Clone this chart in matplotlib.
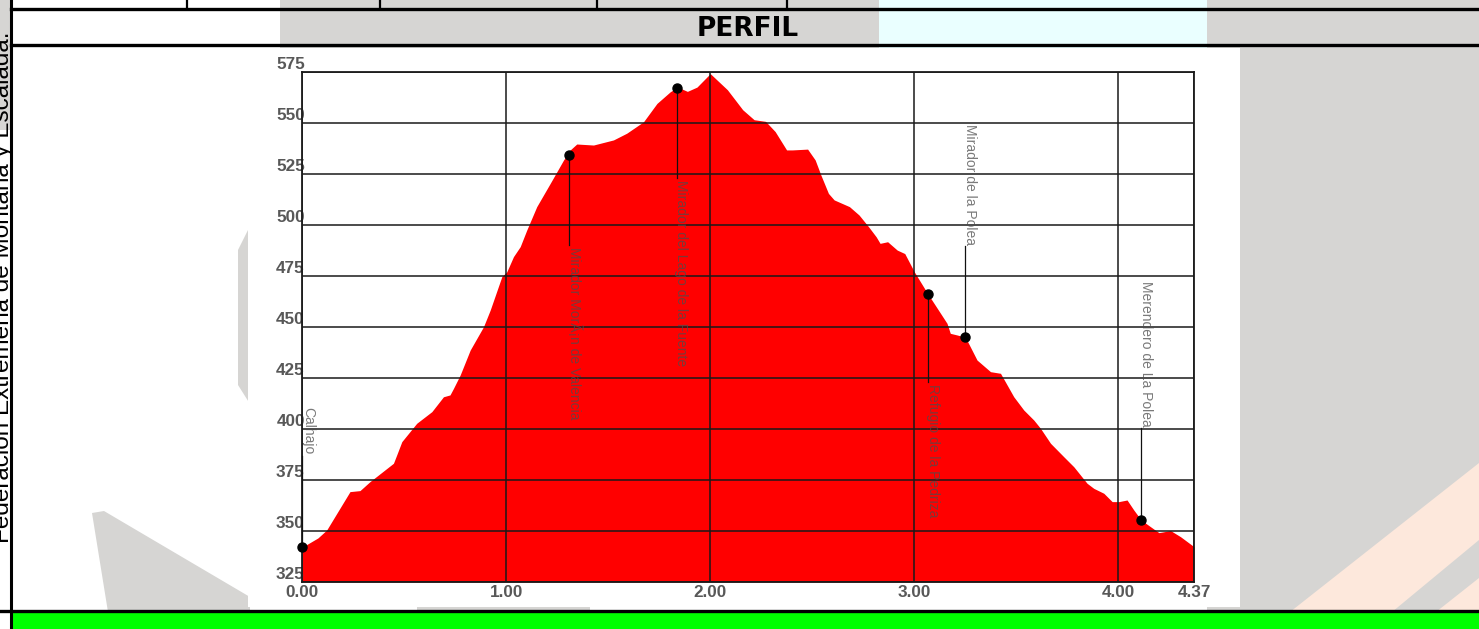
"""
plot.py
-------
Elevation profile ("PERFIL") of a hiking route, drawn inside a table-like
document frame, saved as out.png.
"""

import matplotlib

matplotlib.use("Agg")

import matplotlib.pyplot as plt
from matplotlib.patches import Polygon, Rectangle

# ── Data ──────────────────────────────────────────────────────────────────────

# distance along the route (km) and elevation (m)
DIST_KM = [
    0.000, 0.078, 0.121, 0.235, 0.284, 0.333, 0.448, 0.464, 0.489, 0.562,
    0.636, 0.693, 0.725, 0.742, 0.775, 0.824, 0.889, 0.922, 0.979, 1.003,
    1.036, 1.069, 1.101, 1.150, 1.216, 1.281, 1.314, 1.346, 1.428, 1.526,
    1.591, 1.673, 1.739, 1.804, 1.841, 1.888, 1.935, 2.000, 2.084, 2.159,
    2.215, 2.271, 2.318, 2.374, 2.402, 2.477, 2.514, 2.542, 2.579, 2.607,
    2.682, 2.729, 2.776, 2.813, 2.832, 2.869, 2.916, 2.953, 3.000, 3.065,
    3.160, 3.176, 3.209, 3.250, 3.307, 3.373, 3.422, 3.487, 3.536, 3.585,
    3.618, 3.667, 3.732, 3.781, 3.846, 3.879, 3.928, 3.969, 4.002, 4.042,
    4.075, 4.111, 4.157, 4.198, 4.255, 4.304, 4.370,
]
ELEV_M = [
    342.0, 346.6, 350.5, 369.3, 369.8, 374.2, 383.2, 387.3, 393.8, 402.8,
    408.5, 415.8, 416.7, 419.9, 426.5, 438.7, 450.1, 458.3, 474.7, 477.0,
    484.5, 489.4, 497.5, 509.0, 520.4, 531.8, 536.8, 539.7, 539.2, 541.7,
    545.0, 550.6, 559.6, 565.3, 567.6, 565.5, 567.6, 574.2, 566.3, 556.5,
    551.6, 550.8, 545.8, 536.8, 536.8, 537.2, 531.9, 524.5, 515.5, 512.3,
    509.0, 504.9, 499.1, 494.2, 491.0, 491.8, 487.7, 486.0, 477.0, 466.4,
    451.8, 446.9, 446.1, 445.0, 433.8, 428.1, 427.3, 415.8, 409.3, 404.4,
    400.3, 393.0, 386.4, 381.5, 373.4, 370.9, 368.5, 364.4, 364.4, 365.2,
    360.3, 355.4, 352.1, 349.2, 350.2, 347.2, 342.3,
]

# waypoints
WAYPOINT_NAMES = [
    "Calhajo",
    "Mirador MorÃ¡n de Valencia",
    "Mirador del Lago de la Fuente",
    "Refugio de la Pedriza",
    "Mirador de la Polea",
    "Merendero de La Polea",
]
WAYPOINT_KM = [0.0, 1.31, 1.835, 3.065, 3.25, 4.11]
WAYPOINT_ELEV = [342.0, 534.5, 567.0, 466.0, 445.0, 355.5]

X_TICKS = [0.0, 1.0, 2.0, 3.0, 4.0, 4.37]
Y_TICKS = [325, 350, 375, 400, 425, 450, 475, 500, 525, 550, 575]

# ── Layout (pixels, figure is 1479 x 629) ─────────────────────────────────────

W, H = 1479, 629
AX_LEFT, AX_RIGHT, AX_TOP, AX_BOTTOM = 302, 1194, 72, 582

# label placement per waypoint: (direction, elevation where leader line ends, text x in km)
LABEL_LAYOUT = [
    ("up", 387.0, 0.030),
    ("down", 490.0, 1.335),
    ("down", 523.0, 1.858),
    ("down", 423.0, 3.090),
    ("up", 489.5, 3.272),
    ("up", 400.5, 4.133),
]

GRAY_WM = "#d6d5d3"
CYAN_WM = "#eaffff"
PEACH_WM = "#fde8dc"

fig = plt.figure(figsize=(W / 100, H / 100), dpi=100)
fig.patch.set_facecolor("white")

# ── Background: page watermark + table frame ──────────────────────────────────

bg = fig.add_axes([0, 0, 1, 1])
bg.set_xlim(0, W)
bg.set_ylim(H, 0)
bg.axis("off")


def rect(x0, y0, x1, y1, color, z=0):
    bg.add_patch(Rectangle((x0, y0), x1 - x0, y1 - y0, facecolor=color,
                           edgecolor="none", zorder=z))


def poly(pts, color, z=0):
    bg.add_patch(Polygon(pts, closed=True, facecolor=color, edgecolor="none",
                         zorder=z))


# watermark pieces
rect(0, 0, 10, 130, GRAY_WM)
rect(280, 0, 879, 48, GRAY_WM)
rect(879, 0, 1207, 48, CYAN_WM)
rect(1207, 0, W, 612, GRAY_WM)
poly([(1290, 612), (W, 463), (W, 540), (1392, 612)], PEACH_WM)
poly([(1436, 612), (W, 578), (W, 612)], PEACH_WM)
poly([(92, 513), (104, 511), (250, 597), (250, 612), (108, 612)], GRAY_WM)
poly([(250, 226), (258, 228), (258, 404), (250, 404), (238, 385), (238, 250)],
     GRAY_WM)
rect(417, 600, 590, 612, GRAY_WM)

# white background of the chart picture
rect(248, 48, 1240, 607, "white", z=1)

# table frame
LINE = "black"
bg.plot([11, 11], [0, H], color=LINE, lw=2.2, zorder=3)
bg.plot([11, W], [9, 9], color=LINE, lw=2.4, zorder=3)
bg.plot([11, W], [45, 45], color=LINE, lw=2.4, zorder=3)
bg.plot([0, W], [610.5, 610.5], color=LINE, lw=2.4, zorder=3)
for xd in (187, 380, 597, 787):
    bg.plot([xd, xd], [0, 9], color=LINE, lw=1.6, zorder=3)
rect(12, 612, W, H, "#00ff00", z=2)

bg.text(748, 29, "PERFIL", ha="center", va="center", fontsize=19,
        fontweight="bold", family="DejaVu Sans", color="black", zorder=4)

bg.text(9, 543, "Federación Extremeña de Montaña y Escalada.", rotation=90,
        rotation_mode="anchor", ha="left", va="baseline", fontsize=17.5,
        family="Liberation Sans", color="black", zorder=4)

# ── Profile chart ─────────────────────────────────────────────────────────────

ax = fig.add_axes([
    AX_LEFT / W,
    (H - AX_BOTTOM) / H,
    (AX_RIGHT - AX_LEFT) / W,
    (AX_BOTTOM - AX_TOP) / H,
])
ax.patch.set_visible(False)

ax.fill_between(DIST_KM, ELEV_M, Y_TICKS[0], color="#ff0000", lw=0, zorder=1)

ax.set_xlim(0, X_TICKS[-1])
ax.set_ylim(Y_TICKS[0], Y_TICKS[-1])
ax.set_xticks(X_TICKS)
ax.set_xticklabels([f"{v:.2f}" for v in X_TICKS])
ax.set_yticks(Y_TICKS)
ax.set_yticklabels([str(v) for v in Y_TICKS])
ax.set_axisbelow(False)
ax.grid(True, color="#1a1a1a", lw=1.1, zorder=2)
for spine in ax.spines.values():
    spine.set_color("#1a1a1a")
    spine.set_linewidth(1.3)
    spine.set_zorder(3)

tick_font = dict(family="Liberation Sans", fontweight="bold", fontsize=12.3)
ax.tick_params(axis="both", length=0, colors="#585858")
ax.tick_params(axis="x", pad=2)
ax.tick_params(axis="y", pad=-2)
for lab in ax.get_xticklabels() + ax.get_yticklabels():
    lab.set(**tick_font)
for lab in ax.get_yticklabels():
    lab.set_va("bottom")

# waypoints, leader lines and rotated labels
for name, km, elev, (direction, line_end, text_x) in zip(
    WAYPOINT_NAMES, WAYPOINT_KM, WAYPOINT_ELEV, LABEL_LAYOUT
):
    ax.plot([km, km], [elev, line_end], color="#111111", lw=0.9, zorder=4,
            clip_on=False)
    ax.plot(km, elev, "o", color="black", ms=6.5, zorder=5, clip_on=False)
    if direction == "down":
        ax.text(text_x, line_end - 0.8, name, rotation=270, ha="center",
                va="top", fontsize=10, family="Liberation Sans",
                color="#4d4d4d", alpha=0.75, zorder=6)
    else:
        ax.text(text_x, line_end + 0.8, name, rotation=270, ha="center",
                va="bottom", fontsize=10, family="Liberation Sans",
                color="#4d4d4d", alpha=0.75, zorder=6)

fig.savefig("out.png", dpi=100)
